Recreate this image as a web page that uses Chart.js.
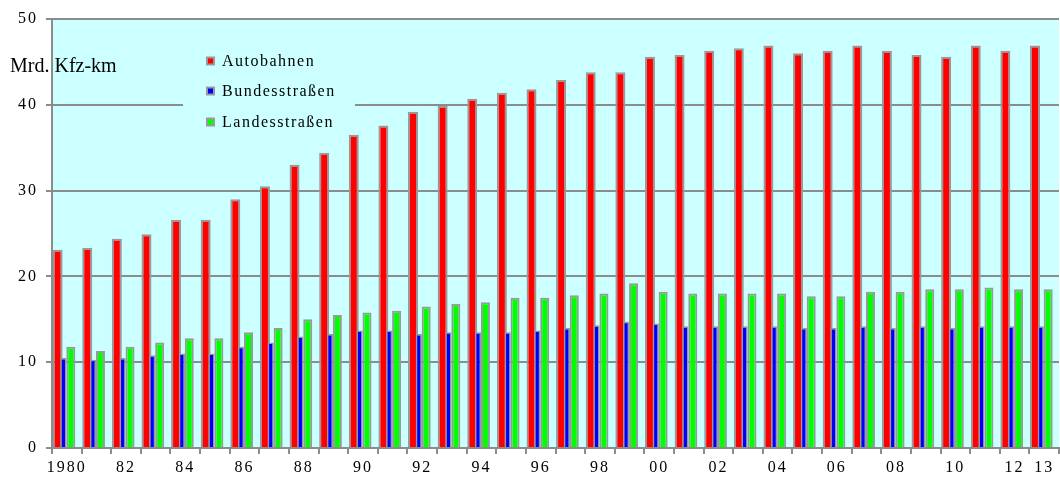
<!DOCTYPE html>
<html>
<head>
<meta charset="utf-8">
<script src="https://cdn.jsdelivr.net/npm/chart.js@4.4.1/dist/chart.umd.min.js"></script>
<style>
	html, body { margin: 0; padding: 0; background: #ffffff; }
	canvas { display: block; }
</style>
</head>
<body>
<canvas id="myChart" width="1060" height="478"></canvas>
<script>
var years = ["1980", "1981", "1982", "1983", "1984", "1985", "1986", "1987", "1988", "1989",
	"1990", "1991", "1992", "1993", "1994", "1995", "1996", "1997", "1998", "1999",
	"2000", "2001", "2002", "2003", "2004", "2005", "2006", "2007", "2008", "2009",
	"2010", "2011", "2012", "2013"];
var xTickLabels = ["1980", "", "82", "", "84", "", "86", "", "88", "",
	"90", "", "92", "", "94", "", "96", "", "98", "",
	"00", "", "02", "", "04", "", "06", "", "08", "",
	"10", "", "12", "13"];
var seriesNames = ["Autobahnen", "Bundesstraßen", "Landesstraßen"];
var autobahnen = [23.1, 23.3, 24.4, 24.9, 26.6, 26.6, 29.0, 30.5, 33.0, 34.4,
	36.5, 37.6, 39.2, 39.9, 40.7, 41.4, 41.8, 42.9, 43.8, 43.8,
	45.6, 45.8, 46.3, 46.6, 46.9, 46.0, 46.3, 46.9, 46.3, 45.8,
	45.6, 46.9, 46.3, 46.9];
var bundesstrassen = [10.5, 10.3, 10.5, 10.8, 11.0, 11.0, 11.8, 12.3, 13.0, 13.3,
	13.7, 13.7, 13.3, 13.5, 13.5, 13.5, 13.7, 14.0, 14.3, 14.7,
	14.5, 14.2, 14.2, 14.2, 14.2, 14.0, 14.0, 14.2, 14.0, 14.2,
	14.0, 14.2, 14.2, 14.2];
var landesstrassen = [11.8, 11.3, 11.8, 12.3, 12.8, 12.8, 13.5, 14.0, 15.0, 15.5,
	15.8, 16.0, 16.5, 16.8, 17.0, 17.5, 17.5, 17.8, 18.0, 19.2,
	18.2, 18.0, 18.0, 18.0, 18.0, 17.7, 17.7, 18.2, 18.2, 18.5,
	18.5, 18.7, 18.5, 18.5];

var
	red = "#ff0000",
	blue = "#0000ff",
	green = "#00ff00",
	cyan = "#ccffff",
	edge = "#999999",
	axisGrey = "#8c8c8c",
	serif = "'Liberation Serif', 'Times New Roman', serif";

// plot background + letter spacing for tick labels
var backdrop = {
	id: 'backdrop',
	beforeDraw: function(chart) {
		var a = chart.chartArea, ctx = chart.ctx;
		ctx.save();
		ctx.fillStyle = cyan;
		ctx.fillRect(a.left, a.top, a.right - a.left, a.bottom - a.top);
		ctx.restore();
		ctx.letterSpacing = '2px';
	}
};

// legend box sitting inside the plot, covering the 40 grid line
var boxLegend = {
	id: 'boxLegend',
	beforeDatasetsDraw: function(chart) {
		var ctx = chart.ctx;
		var rows = [61, 91, 122];
		ctx.save();
		ctx.fillStyle = cyan;
		ctx.fillRect(183, 40, 172, 92);
		ctx.font = "16px " + serif;
		ctx.letterSpacing = '1.5px';
		ctx.textBaseline = 'middle';
		ctx.textAlign = 'left';
		var row = 0;
		chart.data.datasets.forEach(function(ds) {
			if (!ds.label) return;
			var y = rows[row++];
			ctx.fillStyle = edge;
			ctx.fillRect(206, y - 4.5, 9, 9);
			ctx.fillStyle = ds.backgroundColor;
			ctx.fillRect(208, y - 2.5, 5, 5);
			ctx.fillStyle = '#000';
			ctx.fillText(ds.label, 222, y + 1);
		});
		ctx.restore();
	}
};

var unitLabel = {
	id: 'unitLabel',
	afterDraw: function(chart) {
		var ctx = chart.ctx;
		ctx.save();
		ctx.letterSpacing = '0px';
		ctx.font = "20px " + serif;
		ctx.fillStyle = '#000';
		ctx.textBaseline = 'middle';
		ctx.textAlign = 'left';
		ctx.fillText('Mrd. Kfz-km', 10, 67);
		ctx.restore();
	}
};

var ctx = document.getElementById("myChart").getContext('2d');

var myChart = new Chart(ctx, {
	type: 'bar',
	data: {
		labels: years,
		datasets: [{
			label: seriesNames[0],
			data: autobahnen,
			backgroundColor: red,
			borderColor: edge,
			borderWidth: 2,
			order: 1,
			categoryPercentage: 2.485,
			barPercentage: 0.543
		}, {
			label: seriesNames[1],
			data: bundesstrassen,
			backgroundColor: blue,
			borderColor: edge,
			borderWidth: 1.5,
			order: 0,
			categoryPercentage: 0.306,
			barPercentage: 2.735
		}, {
			label: seriesNames[2],
			data: landesstrassen,
			backgroundColor: green,
			borderColor: edge,
			borderWidth: 2,
			order: 2,
			categoryPercentage: 1.08,
			barPercentage: 1.125
		}, {
			// empty slot, only shifts the bar group to the left
			label: '',
			data: [],
			order: 3
		}]
	},
	options: {
		responsive: false,
		animation: false,
		devicePixelRatio: 1,
		layout: {
			padding: { top: 19, right: 1, bottom: 0, left: 0 }
		},
		plugins: {
			legend: { display: false },
			tooltip: { enabled: false }
		},
		scales: {
			x: {
				grid: {
					display: true,
					drawOnChartArea: false,
					drawTicks: true,
					tickLength: 6,
					color: axisGrey,
					lineWidth: 2,
					offset: true
				},
				border: { color: axisGrey, width: 2 },
				ticks: {
					autoSkip: false,
					maxRotation: 0,
					minRotation: 0,
					padding: 4,
					color: '#000',
					font: { family: serif, size: 16 },
					callback: function(v, i) { return xTickLabels[i]; }
				},
				afterFit: function(s) { s.height = 30; }
			},
			y: {
				min: 0,
				max: 50,
				grid: {
					color: axisGrey,
					lineWidth: 2,
					tickLength: 6
				},
				border: { color: axisGrey, width: 2 },
				ticks: {
					stepSize: 10,
					padding: 8,
					color: '#000',
					font: { family: serif, size: 16 }
				},
				afterFit: function(s) { s.width = 52; }
			}
		}
	},
	plugins: [backdrop, boxLegend, unitLabel]
});
</script>
</body>
</html>
